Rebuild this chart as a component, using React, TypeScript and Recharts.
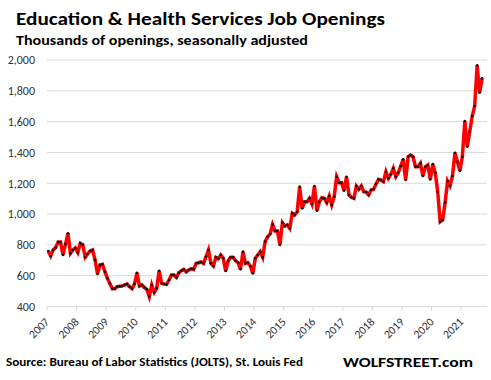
import React from 'react';
import { LineChart, Line, XAxis, YAxis, CartesianGrid } from 'recharts';

const years = ['2007', '2008', '2009', '2010', '2011', '2012', '2013', '2014', '2015', '2016', '2017', '2018', '2019', '2020', '2021'];

const v2007 = [760, 728, 767, 782, 818, 818, 735, 805, 875, 745, 767, 780];
const v2008 = [750, 810, 801, 720, 741, 760, 767, 702, 611, 670, 674, 626];
const v2009 = [583, 550, 516, 516, 529, 531, 533, 540, 546, 529, 516, 546];
const v2010 = [619, 533, 540, 523, 512, 464, 540, 492, 518, 632, 551, 546];
const v2011 = [544, 572, 604, 604, 589, 619, 632, 641, 624, 637, 645, 641];
const v2012 = [680, 684, 689, 680, 723, 767, 680, 663, 719, 710, 734, 713];
const v2013 = [630, 697, 719, 719, 697, 684, 641, 756, 680, 684, 663, 615];
const v2014 = [713, 734, 756, 719, 821, 853, 870, 932, 890, 890, 800, 944];
const v2015 = [922, 929, 907, 1005, 994, 1015, 1178, 1037, 1080, 1080, 1102, 1065];
const v2016 = [1182, 1022, 1080, 1106, 1102, 1074, 1117, 1059, 1113, 1242, 1203, 1203];
const v2017 = [1151, 1242, 1124, 1109, 1102, 1182, 1161, 1182, 1145, 1143, 1124, 1156];
const v2018 = [1161, 1195, 1225, 1221, 1210, 1275, 1232, 1258, 1297, 1242, 1268, 1312];
const v2019 = [1355, 1221, 1372, 1383, 1372, 1307, 1307, 1329, 1247, 1307, 1318, 1225];
const v2020 = [1325, 1268, 1145, 950, 961, 1074, 1214, 1184, 1247, 1398, 1340, 1281];
const v2021 = [1372, 1604, 1437, 1534, 1636, 1701, 1965, 1788, 1881];

const values = [
  ...v2007, ...v2008, ...v2009, ...v2010, ...v2011, ...v2012, ...v2013, ...v2014,
  ...v2015, ...v2016, ...v2017, ...v2018, ...v2019, ...v2020, ...v2021,
];

const data = values.map((v, i) => ({ idx: i, value: v }));
const yTicks = [400, 600, 800, 1000, 1200, 1400, 1600, 1800, 2000];
const xTicks = years.map((_, k) => k * 12 - 0.5);

const FONT = 'Carlito, Calibri, Lato, sans-serif';

const XTick = (props: any) => {
  const { x, y, payload } = props;
  const k = Math.round((payload.value + 0.5) / 12);
  const label = years[k];
  const ax = x + 3;
  const ay = y + 10;
  return (
    <text x={ax} y={ay} textAnchor="end" transform={`rotate(-45, ${ax}, ${ay})`} fontSize={11.5} fill="#333" fontFamily={FONT}>
      {label}
    </text>
  );
};

const fmt = (v: number) => v.toLocaleString('en-US');

export default function App() {
  return (
    <div style={{ position: 'absolute', left: 0, top: 0, width: 491, height: 380, background: '#fff' }}>
      <LineChart width={491} height={380} data={data} margin={{ top: 60, right: 4, left: 0, bottom: 33.5 }}>
        <CartesianGrid vertical={false} stroke="#d9d9d9" strokeWidth={1} />
        <XAxis
          dataKey="idx"
          type="number"
          domain={[-0.5, 178]}
          ticks={xTicks}
          interval={0}
          height={40}
          tick={<XTick />}
          tickSize={4}
          tickLine={{ stroke: '#d9d9d9' }}
          axisLine={{ stroke: '#d9d9d9' }}
          allowDataOverflow
        />
        <YAxis
          type="number"
          domain={[400, 2000]}
          ticks={yTicks}
          interval={0}
          width={47}
          tickSize={0}
          tickMargin={12}
          axisLine={false}
          tickLine={false}
          tickFormatter={fmt}
          tick={{ fontSize: 12, fill: '#333', fontFamily: FONT }}
        />
        <Line
          type="linear"
          dataKey="value"
          stroke="#ff0000"
          strokeWidth={3.5}
          dot={{ r: 1.3, fill: '#111', stroke: 'none', strokeWidth: 0 }}
          isAnimationActive={false}
        />
      </LineChart>
      <svg width={491} height={380} style={{ position: 'absolute', left: 0, top: 0, pointerEvents: 'none' }}>
        <text x={16} y={25} fontSize={17.5} fontWeight="bold" fill="#000" fontFamily={FONT} textLength={369} lengthAdjust="spacingAndGlyphs">
          Education &amp; Health Services Job Openings
        </text>
        <text x={16} y={45} fontSize={13} fontWeight="bold" fill="#000" fontFamily={FONT} textLength={292} lengthAdjust="spacingAndGlyphs">
          Thousands of openings, seasonally adjusted
        </text>
        <text x={6} y={366} fontSize={11.5} fontWeight="bold" fill="#000" fontFamily={FONT} textLength={297} lengthAdjust="spacingAndGlyphs">
          Source: Bureau of Labor Statistics (JOLTS), St. Louis Fed
        </text>
        <text x={343} y={367} fontSize={14.5} fontWeight="bold" fill="#000" fontFamily={FONT} textLength={130} lengthAdjust="spacingAndGlyphs">
          WOLFSTREET.com
        </text>
      </svg>
    </div>
  );
}
